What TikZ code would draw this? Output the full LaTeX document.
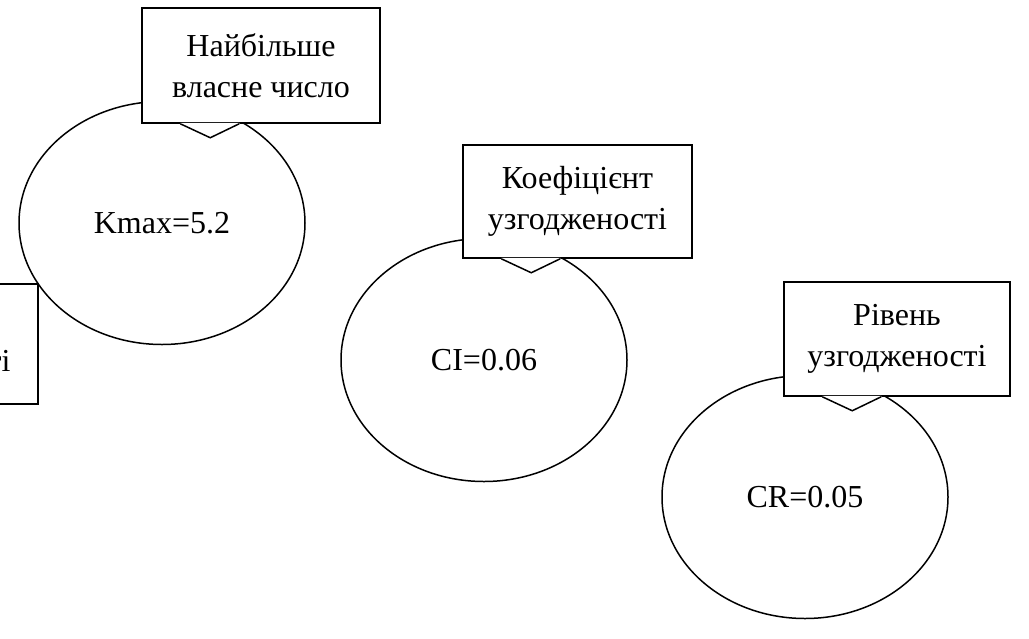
\documentclass[tikz,border=0pt]{standalone}
\usepackage{fontspec}
\setmainfont{Liberation Serif}
\usetikzlibrary{shapes.geometric, calc}

\newcommand{\bigtext}{\fontsize{32}{41}\selectfont}
% tail of a callout box, pointing down
\newcommand{\notetail}[1]{%
  \fill[white] ([xshift=39pt,yshift=1pt]#1.south west) -- ([xshift=39pt]#1.south west)
    -- ([xshift=69pt,yshift=-14pt]#1.south west) -- ([xshift=98pt]#1.south west)
    -- ([xshift=98pt,yshift=1pt]#1.south west) -- cycle;
  \draw ([xshift=39pt]#1.south west) -- ([xshift=69pt,yshift=-14pt]#1.south west)
    -- ([xshift=98pt]#1.south west);}

\tikzset{
  oval/.style={ellipse, draw, inner sep=0pt, minimum width=286pt, minimum height=243pt},
  note/.style={rectangle, draw, fill=white, align=center, inner sep=0pt, minimum height=115pt},
}

\begin{document}
\begin{tikzpicture}[x=1pt, y=-1pt, font=\bigtext, line width=1.5pt]
  \useasboundingbox (0,0) rectangle (1029,638);
  \clip (0,0) rectangle (1029,638);

  \node[note, minimum width=234pt, minimum height=120pt] (rinote) at (-79,344) {\vphantom{Р}\\узгодженості};

  \node[oval] (kmax) at (162,223) {Kmax=5.2};
  \node[note, minimum width=238pt] (kmaxnote) at (261,65.5) {Найбільше\\власне число};
  \notetail{kmaxnote}

  \node[oval] (ci) at (484,360) {CI=0.06};
  \node[note, minimum width=229pt, minimum height=113pt] (cinote) at (577.5,201.5) {Коефіцієнт\\узгодженості};
  \notetail{cinote}

  \node[oval] (cr) at (805,497) {CR=0.05};
  \node[note, minimum width=226pt, minimum height=114pt] (crnote) at (897,339) {Рівень\\узгодженості};
  \notetail{crnote}
\end{tikzpicture}
\end{document}
